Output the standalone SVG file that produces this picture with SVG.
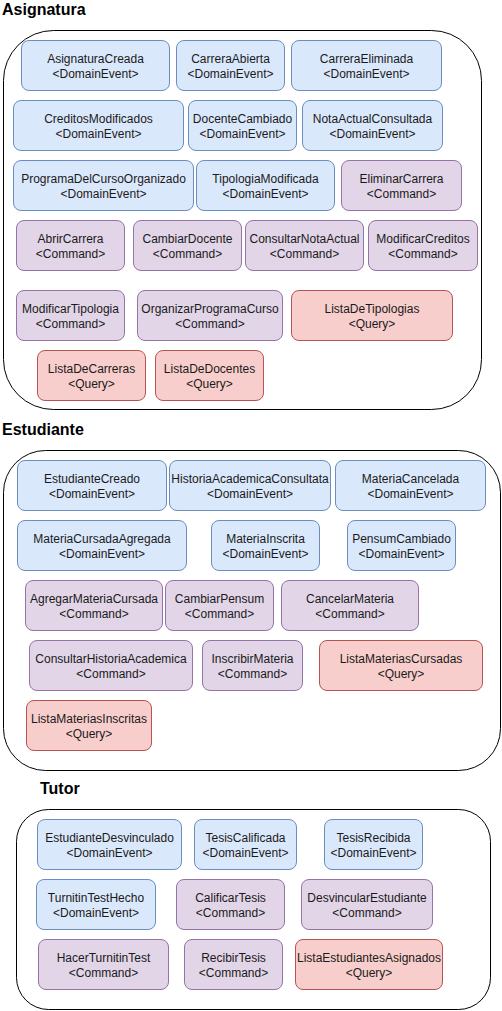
<svg xmlns="http://www.w3.org/2000/svg" width="502" height="1011" viewBox="0 0 502 1011">
<style>
.title{font-family:"Liberation Sans",Arial,sans-serif;font-weight:bold;font-size:16px;fill:#000}
.ctr{fill:#fff;stroke:#000;stroke-width:1}
.ev rect{fill:#dae8fc;stroke:#6c8ebf}
.cmd rect{fill:#e1d5e7;stroke:#9673a6}
.q rect{fill:#f8cecc;stroke:#b85450}
.n text{font-family:"Liberation Sans",Arial,sans-serif;font-size:12px;fill:#1a1a1a;text-anchor:middle}
</style>
<rect width="502" height="1011" fill="#fff"/>
<g id="containers">
<text class="title" x="2" y="15">Asignatura</text>
<rect id="c-asignatura" class="ctr" x="3.5" y="30.5" width="478" height="379" rx="50" ry="50"/>
<text class="title" x="2" y="435">Estudiante</text>
<rect id="c-estudiante" class="ctr" x="3.5" y="450.5" width="497" height="320" rx="42" ry="42"/>
<text class="title" x="40" y="794">Tutor</text>
<rect id="c-tutor" class="ctr" x="16.5" y="809.5" width="474" height="200" rx="32" ry="32"/>
</g>
<g id="connectors"></g>

<g id="AsignaturaCreada" class="n ev"><rect x="21.5" y="40.5" width="148" height="50" rx="7.5"/><text x="95.5" y="62.5">AsignaturaCreada</text><text x="95.5" y="77.5">&lt;DomainEvent&gt;</text></g>
<g id="CarreraAbierta" class="n ev"><rect x="176.5" y="40.5" width="108" height="50" rx="7.5"/><text x="230.5" y="62.5">CarreraAbierta</text><text x="230.5" y="77.5">&lt;DomainEvent&gt;</text></g>
<g id="CarreraEliminada" class="n ev"><rect x="291.5" y="40.5" width="150" height="50" rx="7.5"/><text x="366.5" y="62.5">CarreraEliminada</text><text x="366.5" y="77.5">&lt;DomainEvent&gt;</text></g>

<g id="CreditosModificados" class="n ev"><rect x="13.5" y="100.5" width="170" height="50" rx="7.5"/><text x="98.5" y="122.5">CreditosModificados</text><text x="98.5" y="137.5">&lt;DomainEvent&gt;</text></g>
<g id="DocenteCambiado" class="n ev"><rect x="188.5" y="100.5" width="108" height="50" rx="7.5"/><text x="242.5" y="122.5">DocenteCambiado</text><text x="242.5" y="137.5">&lt;DomainEvent&gt;</text></g>
<g id="NotaActualConsultada" class="n ev"><rect x="302.5" y="100.5" width="140" height="50" rx="7.5"/><text x="372.5" y="122.5">NotaActualConsultada</text><text x="372.5" y="137.5">&lt;DomainEvent&gt;</text></g>

<g id="ProgramaDelCursoOrganizado" class="n ev"><rect x="13.5" y="160.5" width="180" height="50" rx="7.5"/><text x="103.5" y="182.5">ProgramaDelCursoOrganizado</text><text x="103.5" y="197.5">&lt;DomainEvent&gt;</text></g>
<g id="TipologiaModificada" class="n ev"><rect x="196.5" y="160.5" width="138" height="50" rx="7.5"/><text x="265.5" y="182.5">TipologiaModificada</text><text x="265.5" y="197.5">&lt;DomainEvent&gt;</text></g>
<g id="EliminarCarrera" class="n cmd"><rect x="341.5" y="160.5" width="120" height="50" rx="7.5"/><text x="401.5" y="182.5">EliminarCarrera</text><text x="401.5" y="197.5">&lt;Command&gt;</text></g>

<g id="AbrirCarrera" class="n cmd"><rect x="16.5" y="220.5" width="108" height="50" rx="7.5"/><text x="70.5" y="242.5">AbrirCarrera</text><text x="70.5" y="257.5">&lt;Command&gt;</text></g>
<g id="CambiarDocente" class="n cmd"><rect x="133.5" y="220.5" width="108" height="50" rx="7.5"/><text x="187.5" y="242.5">CambiarDocente</text><text x="187.5" y="257.5">&lt;Command&gt;</text></g>
<g id="ConsultarNotaActual" class="n cmd"><rect x="245.5" y="220.5" width="118" height="50" rx="7.5"/><text x="304.5" y="242.5">ConsultarNotaActual</text><text x="304.5" y="257.5">&lt;Command&gt;</text></g>
<g id="ModificarCreditos" class="n cmd"><rect x="368.5" y="220.5" width="109" height="50" rx="7.5"/><text x="423" y="242.5">ModificarCreditos</text><text x="423" y="257.5">&lt;Command&gt;</text></g>

<g id="ModificarTipologia" class="n cmd"><rect x="16.5" y="290.5" width="108" height="50" rx="7.5"/><text x="70.5" y="312.5">ModificarTipologia</text><text x="70.5" y="327.5">&lt;Command&gt;</text></g>
<g id="OrganizarProgramaCurso" class="n cmd"><rect x="137.5" y="290.5" width="145" height="50" rx="7.5"/><text x="210" y="312.5">OrganizarProgramaCurso</text><text x="210" y="327.5">&lt;Command&gt;</text></g>
<g id="ListaDeTipologias" class="n q"><rect x="291.5" y="290.5" width="161" height="50" rx="7.5"/><text x="372" y="312.5">ListaDeTipologias</text><text x="372" y="327.5">&lt;Query&gt;</text></g>

<g id="ListaDeCarreras" class="n q"><rect x="37.5" y="350.5" width="108" height="50" rx="7.5"/><text x="91.5" y="372.5">ListaDeCarreras</text><text x="91.5" y="387.5">&lt;Query&gt;</text></g>
<g id="ListaDeDocentes" class="n q"><rect x="155.5" y="350.5" width="108" height="50" rx="7.5"/><text x="209.5" y="372.5">ListaDeDocentes</text><text x="209.5" y="387.5">&lt;Query&gt;</text></g>

<g id="EstudianteCreado" class="n ev"><rect x="17.5" y="460.5" width="149" height="50" rx="7.5"/><text x="92" y="482.5">EstudianteCreado</text><text x="92" y="497.5">&lt;DomainEvent&gt;</text></g>
<g id="HistoriaAcademicaConsultata" class="n ev"><rect x="169.5" y="460.5" width="161" height="50" rx="7.5"/><text x="250" y="482.5">HistoriaAcademicaConsultata</text><text x="250" y="497.5">&lt;DomainEvent&gt;</text></g>
<g id="MateriaCancelada" class="n ev"><rect x="335.5" y="460.5" width="150" height="50" rx="7.5"/><text x="410.5" y="482.5">MateriaCancelada</text><text x="410.5" y="497.5">&lt;DomainEvent&gt;</text></g>

<g id="MateriaCursadaAgregada" class="n ev"><rect x="17.5" y="520.5" width="169" height="50" rx="7.5"/><text x="102" y="542.5">MateriaCursadaAgregada</text><text x="102" y="557.5">&lt;DomainEvent&gt;</text></g>
<g id="MateriaInscrita" class="n ev"><rect x="211.5" y="520.5" width="108" height="50" rx="7.5"/><text x="265.5" y="542.5">MateriaInscrita</text><text x="265.5" y="557.5">&lt;DomainEvent&gt;</text></g>
<g id="PensumCambiado" class="n ev"><rect x="347.5" y="520.5" width="108" height="50" rx="7.5"/><text x="401.5" y="542.5">PensumCambiado</text><text x="401.5" y="557.5">&lt;DomainEvent&gt;</text></g>

<g id="AgregarMateriaCursada" class="n cmd"><rect x="25.5" y="580.5" width="137" height="50" rx="7.5"/><text x="94" y="602.5">AgregarMateriaCursada</text><text x="94" y="617.5">&lt;Command&gt;</text></g>
<g id="CambiarPensum" class="n cmd"><rect x="165.5" y="580.5" width="108" height="50" rx="7.5"/><text x="219.5" y="602.5">CambiarPensum</text><text x="219.5" y="617.5">&lt;Command&gt;</text></g>
<g id="CancelarMateria" class="n cmd"><rect x="281.5" y="580.5" width="137" height="50" rx="7.5"/><text x="350" y="602.5">CancelarMateria</text><text x="350" y="617.5">&lt;Command&gt;</text></g>

<g id="ConsultarHistoriaAcademica" class="n cmd"><rect x="29.5" y="640.5" width="163" height="50" rx="7.5"/><text x="111" y="662.5">ConsultarHistoriaAcademica</text><text x="111" y="677.5">&lt;Command&gt;</text></g>
<g id="InscribirMateria" class="n cmd"><rect x="202.5" y="640.5" width="100" height="50" rx="7.5"/><text x="252.5" y="662.5">InscribirMateria</text><text x="252.5" y="677.5">&lt;Command&gt;</text></g>
<g id="ListaMateriasCursadas" class="n q"><rect x="319.5" y="640.5" width="163" height="50" rx="7.5"/><text x="401" y="662.5">ListaMateriasCursadas</text><text x="401" y="677.5">&lt;Query&gt;</text></g>

<g id="ListaMateriasInscritas" class="n q"><rect x="26.5" y="700.5" width="125" height="50" rx="7.5"/><text x="89" y="722.5">ListaMateriasInscritas</text><text x="89" y="737.5">&lt;Query&gt;</text></g>

<g id="EstudianteDesvinculado" class="n ev"><rect x="37.5" y="819.5" width="144" height="50" rx="7.5"/><text x="109.5" y="841.5">EstudianteDesvinculado</text><text x="109.5" y="856.5">&lt;DomainEvent&gt;</text></g>
<g id="TesisCalificada" class="n ev"><rect x="194.5" y="819.5" width="102" height="50" rx="7.5"/><text x="245.5" y="841.5">TesisCalificada</text><text x="245.5" y="856.5">&lt;DomainEvent&gt;</text></g>
<g id="TesisRecibida" class="n ev"><rect x="324.5" y="819.5" width="98" height="50" rx="7.5"/><text x="373.5" y="841.5">TesisRecibida</text><text x="373.5" y="856.5">&lt;DomainEvent&gt;</text></g>

<g id="TurnitinTestHecho" class="n ev"><rect x="36.5" y="879.5" width="119" height="50" rx="7.5"/><text x="96" y="901.5">TurnitinTestHecho</text><text x="96" y="916.5">&lt;DomainEvent&gt;</text></g>
<g id="CalificarTesis" class="n cmd"><rect x="176.5" y="879.5" width="108" height="50" rx="7.5"/><text x="230.5" y="901.5">CalificarTesis</text><text x="230.5" y="916.5">&lt;Command&gt;</text></g>
<g id="DesvincularEstudiante" class="n cmd"><rect x="301.5" y="879.5" width="131" height="50" rx="7.5"/><text x="367" y="901.5">DesvincularEstudiante</text><text x="367" y="916.5">&lt;Command&gt;</text></g>

<g id="HacerTurnitinTest" class="n cmd"><rect x="38.5" y="939.5" width="130" height="50" rx="7.5"/><text x="103.5" y="961.5">HacerTurnitinTest</text><text x="103.5" y="976.5">&lt;Command&gt;</text></g>
<g id="RecibirTesis" class="n cmd"><rect x="184.5" y="939.5" width="98" height="50" rx="7.5"/><text x="233.5" y="961.5">RecibirTesis</text><text x="233.5" y="976.5">&lt;Command&gt;</text></g>
<g id="ListaEstudiantesAsignados" class="n q"><rect x="295.5" y="939.5" width="147" height="50" rx="7.5"/><text x="369" y="961.5">ListaEstudiantesAsignados</text><text x="369" y="976.5">&lt;Query&gt;</text></g>
</svg>
